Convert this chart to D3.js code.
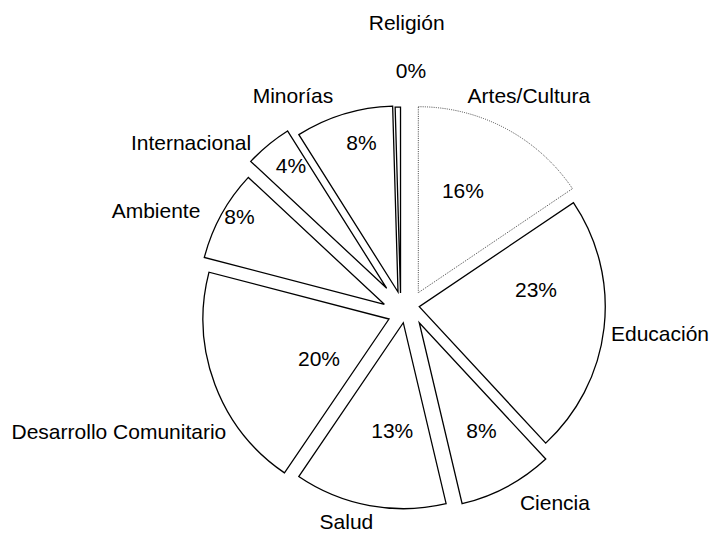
<!DOCTYPE html>
<html>
<head>
<meta charset="utf-8">
<script src="https://cdn.jsdelivr.net/npm/d3@7"></script>
<style>
  html, body { margin: 0; padding: 0; background: #fff; }
  svg { display: block; }
  text { font-family: "Liberation Sans", Arial, sans-serif; font-size: 21px; fill: #000; }
</style>
</head>
<body>
<svg id="chart" width="709" height="534"></svg>
<script>
// ---- data ----
const categories = ["Artes/Cultura", "Educación", "Ciencia", "Salud", "Desarrollo Comunitario",
                    "Ambiente", "Internacional", "Minorías", "Religión"];
const shares = [15.55, 22.55, 8.2, 13.2, 19.55, 7.9, 4.1, 8.49, 0.46];

// ---- layout (style) constants ----
const W = 709, H = 534;
const cx = 406.7, cy = 310.8, R = 186;
// explosion of each slice: [direction in degrees clockwise from 12 o'clock, distance]
const explode = [[32.7, 21.5], [72, 13.2], [133.4, 17.3], [196, 12.4], [245.1, 19.5],
                 [286.2, 23.3], [318.4, 30.1], [335.2, 20.7], [340.8, 18.8]];
// label placement, polar (degrees clockwise from 12 o'clock, radius) from pie centre
const pctPos = [[25, 133], [80.8, 131], [148.1, 141.5], [186.9, 120.5], [241.5, 99.8],
                [299.4, 192], [321.5, 186], [345, 174.5], [1, 240]];
const catPos = [[29.5, 248], [95, 254.3], [142.3, 242.4], [196, 218.7], [247.2, 312.2],
                [291.8, 270], [307.9, 273.3], [332.2, 244], [0, 288.8]];

const svg = d3.select("#chart");
svg.append("rect").attr("width", W).attr("height", H).attr("fill", "#fff");

const total = d3.sum(shares);
const pct = d3.format(".0%");
const pie = d3.pie().sort(null).value(d => d)(shares);
const arc = d3.arc().innerRadius(0).outerRadius(R);

const g = svg.append("g").attr("transform", `translate(${cx},${cy})`);

const rad = d => d * Math.PI / 180;
const polar = (deg, r) => [r * Math.sin(rad(deg)), -r * Math.cos(rad(deg))];

g.selectAll("path.slice")
  .data(pie)
  .join("path")
  .attr("class", "slice")
  .attr("d", arc)
  .attr("transform", (d, i) => {
    const [ex, ey] = polar(explode[i][0], explode[i][1]);
    return `translate(${ex},${ey})`;
  })
  .attr("fill", "#fff")
  .attr("stroke", (d, i) => i === 0 ? "#444" : "#000")
  .attr("stroke-width", (d, i) => i === 0 ? 1 : 1.3)
  .attr("stroke-dasharray", (d, i) => i === 0 ? "1,1.2" : null)
  .attr("stroke-linejoin", "miter");

g.selectAll("text.pct")
  .data(pie)
  .join("text")
  .attr("class", "pct")
  .attr("text-anchor", "middle")
  .attr("dy", "0.36em")
  .attr("x", (d, i) => polar(pctPos[i][0], pctPos[i][1])[0])
  .attr("y", (d, i) => polar(pctPos[i][0], pctPos[i][1])[1])
  .text(d => pct(d.value / total));

g.selectAll("text.cat")
  .data(categories)
  .join("text")
  .attr("class", "cat")
  .attr("text-anchor", "middle")
  .attr("dy", "0.36em")
  .attr("x", (d, i) => polar(catPos[i][0], catPos[i][1])[0])
  .attr("y", (d, i) => polar(catPos[i][0], catPos[i][1])[1])
  .text(d => d);
</script>
</body>
</html>
